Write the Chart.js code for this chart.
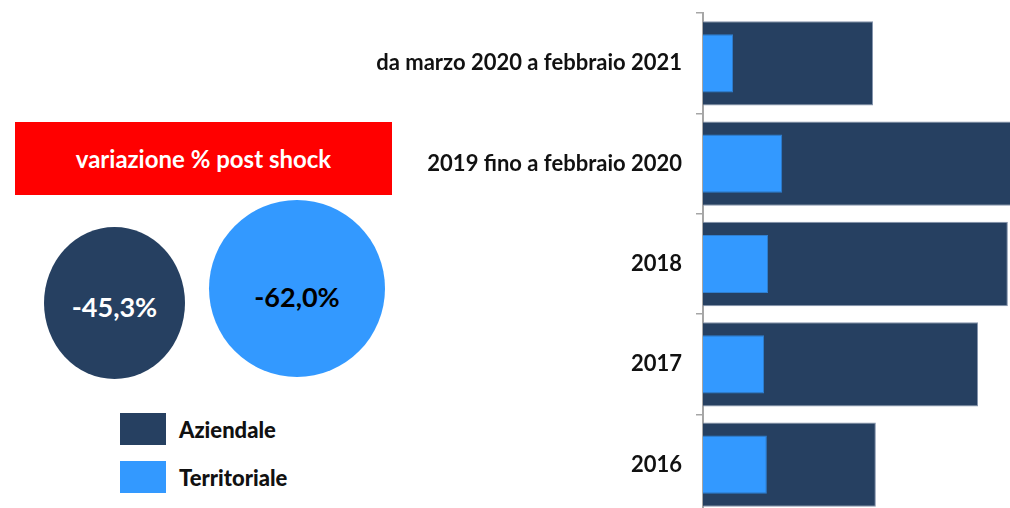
<!DOCTYPE html>
<html>
<head>
<meta charset="utf-8">
<script src="https://cdn.jsdelivr.net/npm/chart.js@4"></script>
<style>
  html, body { margin: 0; padding: 0; background: #fff; overflow: hidden; }
  body { width: 1010px; height: 508px; position: relative; font-family: Lato, "Noto Sans", sans-serif; }
  #barWrap { position: absolute; left: 330px; top: -14px; }
  .banner { position: absolute; left: 15px; top: 122px; width: 377px; height: 73px; background: #ff0000;
            color: #fff; font-weight: bold; font-size: 24px; display: flex; align-items: center; justify-content: center; }
  .circle { position: absolute; border-radius: 50%; display: flex; align-items: center; justify-content: center;
            font-weight: bold; font-size: 27px; box-sizing: border-box; }
  .leg { position: absolute; left: 120px; font-size: 22px; font-weight: bold; color: #111; }
  .leg span { position: absolute; left: 0; width: 46px; height: 32px; }
  .leg b { position: absolute; left: 59px; top: 3px; white-space: nowrap; }
</style>
</head>
<body>
<div class="banner" id="banner"></div>
<div class="circle" id="c0" style="left:44px;top:227px;width:141px;height:152px;padding-top:6px;"></div>
<div class="circle" id="c1" style="left:209px;top:200px;width:176px;height:177px;padding-top:16px;"></div>
<div class="leg" id="leg0" style="top:413px;"><span></span><b></b></div>
<div class="leg" id="leg1" style="top:461px;"><span></span><b></b></div>
<div id="barWrap"><canvas id="barChart" width="680" height="556"></canvas></div>
<script>
// Dati del grafico
const periodi = ['da marzo 2020 a febbraio 2021', '2019 fino a febbraio 2020', '2018', '2017', '2016'];
const serie = ['Aziendale', 'Territoriale'];
const aziendale = [554, 1013, 993, 896, 563];
const territoriale = [98, 258, 212, 199, 208];
const variazione = [-45.3, -62.0];
const titolo = 'variazione % post shock';

const colori = ['#264061', '#3399ff'];
const coloriTesto = ['#ffffff', '#000000'];

// Parte sinistra: titolo, cerchi e legenda
document.getElementById('banner').textContent = titolo;
variazione.forEach((v, i) => {
  const el = document.getElementById('c' + i);
  el.textContent = v.toFixed(1).replace('.', ',') + '%';
  el.style.background = colori[i];
  el.style.color = coloriTesto[i];
});
serie.forEach((s, i) => {
  const el = document.getElementById('leg' + i);
  el.querySelector('span').style.background = colori[i];
  el.querySelector('b').textContent = s;
});

// Grafico a barre sovrapposte
const canvasLeft = 330;
const ctx = document.getElementById('barChart').getContext('2d');
new Chart(ctx, {
  type: 'bar',
  data: {
    labels: periodi,
    datasets: [
      {
        label: serie[1],
        data: territoriale,
        backgroundColor: colori[1],
        borderColor: '#2f7fd0',
        borderWidth: 1,
        barPercentage: 0.58,
        categoryPercentage: 1,
        grouped: false,
        order: 0
      },
      {
        label: serie[0],
        data: aziendale,
        backgroundColor: colori[0],
        borderColor: '#8594ad',
        borderWidth: 1,
        barPercentage: 0.84,
        categoryPercentage: 1,
        grouped: false,
        order: 1
      }
    ]
  },
  options: {
    indexAxis: 'y',
    responsive: false,
    animation: false,
    layout: { padding: 0 },
    plugins: { legend: { display: false }, tooltip: { enabled: false } },
    scales: {
      x: { display: false, min: 0, max: 1000 },
      y: {
        afterFit: (scale) => { scale.width = 703 - canvasLeft; },
        border: { display: true, color: '#a6a6a6', width: 2 },
        grid: { drawOnChartArea: false, drawTicks: true, tickLength: 7, color: '#a6a6a6', lineWidth: 1.5 },
        ticks: { color: '#111', padding: 14, font: { family: 'Lato', size: 22, weight: 'bold' } }
      }
    }
  }
});
</script>
</body>
</html>
